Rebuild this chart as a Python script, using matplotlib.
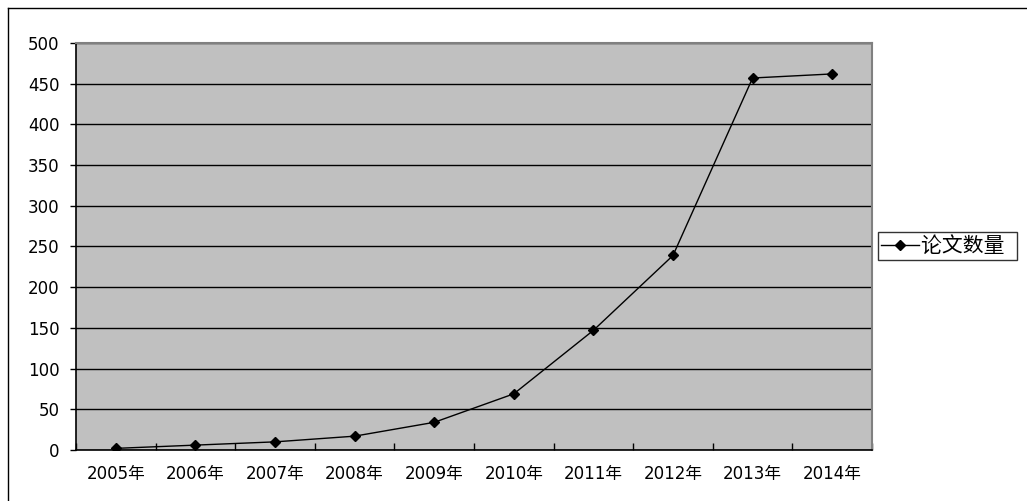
import matplotlib
matplotlib.use("Agg")
import matplotlib.pyplot as plt
from matplotlib.lines import Line2D
import numpy as np

plt.rcParams['font.family'] = ['DejaVu Sans', 'Noto Sans CJK SC']

years = ["2005年", "2006年", "2007年", "2008年", "2009年",
         "2010年", "2011年", "2012年", "2013年", "2014年"]
papers = [2, 6, 10, 17, 34, 69, 147, 239, 457, 462]
series_name = "论文数量"
yticks = [0, 50, 100, 150, 200, 250, 300, 350, 400, 450, 500]

fig = plt.figure(figsize=(10.27, 5.01), dpi=100)
fig.patch.set_facecolor("white")
# figure border (top and left visible)
fig.add_artist(Line2D([8/1027, 8/1027], [0, 1 - 8/501], transform=fig.transFigure, color="black", lw=1))
fig.add_artist(Line2D([8/1027, 1], [1 - 8/501, 1 - 8/501], transform=fig.transFigure, color="black", lw=1))

ax = fig.add_axes([76/1027, 1 - 450/501, 796/1027, 407/501])
ax.set_facecolor("#C0C0C0")
x = np.arange(len(years))
line, = ax.plot(x, papers, color="black", lw=1, marker="D", markersize=5.5,
                markerfacecolor="black", markeredgecolor="black", label=series_name)

ax.set_xlim(-0.5, len(years) - 0.5)
ax.set_ylim(0, 500)
ax.set_yticks(yticks)
ax.set_yticklabels([str(v) for v in yticks])
ax.set_xticks(x)
ax.set_xticklabels(years)
ax.set_xticks(np.arange(-0.5, len(years)), minor=True)
ax.tick_params(axis="x", which="major", length=0, pad=11, labelsize=12)
ax.tick_params(axis="x", which="minor", direction="in", length=5, width=1, color="black")
ax.tick_params(axis="y", direction="out", length=4, width=1, pad=8, labelsize=12, color="black")
ax.yaxis.grid(True, color="black", lw=1)
ax.set_axisbelow(True)
for s in ["top", "right"]:
    ax.spines[s].set_color("#808080")
    ax.spines[s].set_linewidth(1.5)
for s in ["left", "bottom"]:
    ax.spines[s].set_color("black")
    ax.spines[s].set_linewidth(1.2)

leg = fig.legend(handles=[line], labels=[series_name + "  "], loc="center left",
                 bbox_to_anchor=(878/1027, 1 - 246/501), frameon=True, fancybox=False,
                 edgecolor="black", handlelength=1.8, handletextpad=0.1,
                 borderpad=0.15, borderaxespad=0, prop={'family': ['Noto Sans CJK SC'], 'size': 15})
leg.get_frame().set_linewidth(1)

fig.savefig("out.png", dpi=100)
